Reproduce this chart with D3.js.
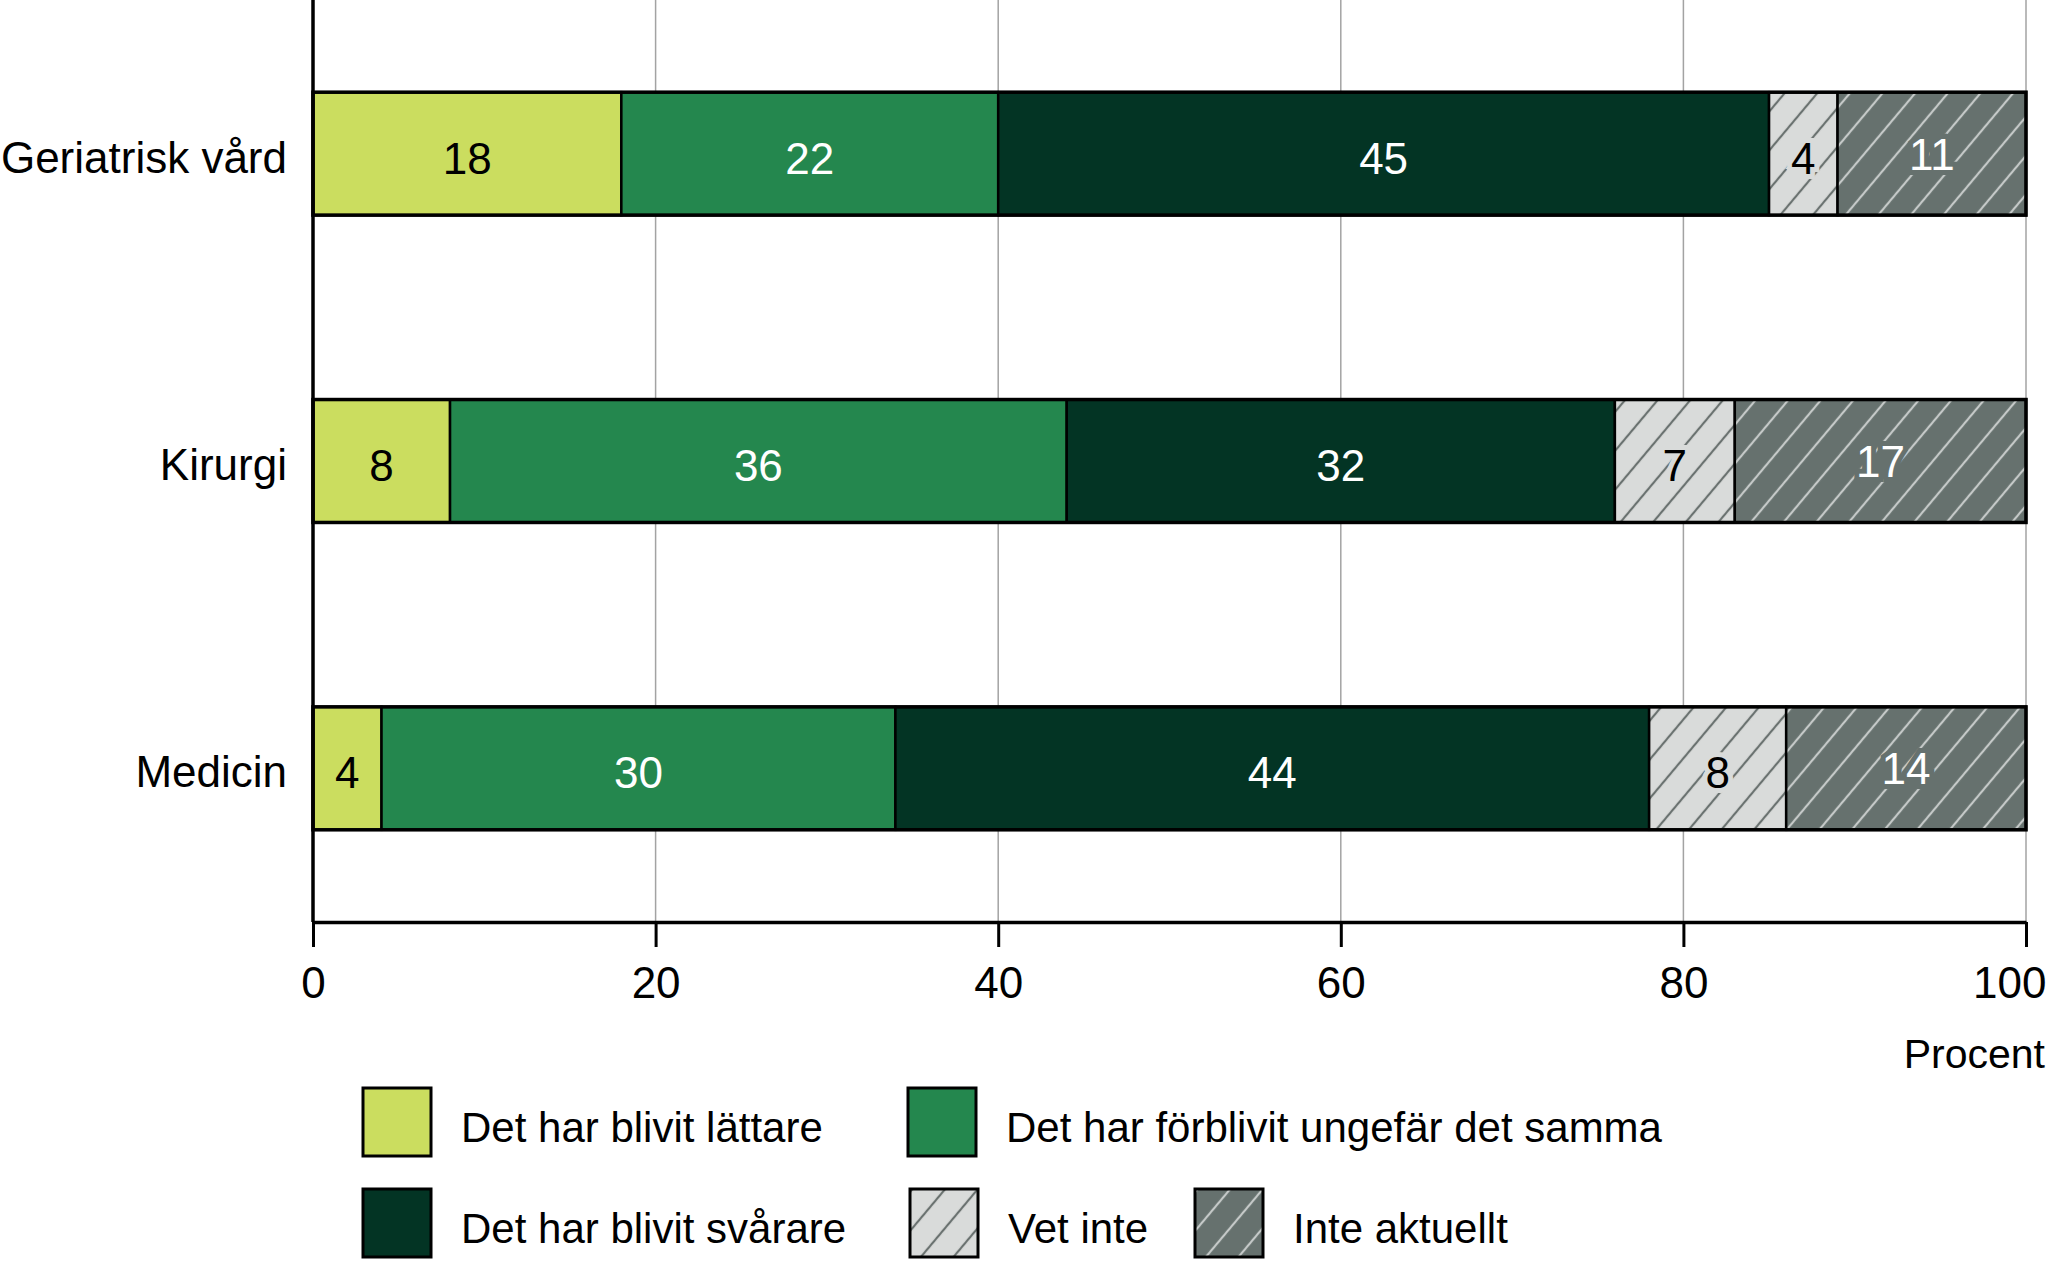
<!DOCTYPE html>
<html>
<head>
<meta charset="utf-8">
<script src="https://d3js.org/d3.v7.min.js"></script>
</head>
<body style="margin:0;background:#fff">
<style>
  svg text { font-family: "Liberation Sans", Arial, sans-serif; }
</style>
<svg id="chart"></svg>
<script>
// data
var categories = ["Geriatrisk vård", "Kirurgi", "Medicin"];
var seriesNames = ["Det har blivit lättare", "Det har förblivit ungefär det samma", "Det har blivit svårare", "Vet inte", "Inte aktuellt"];
var lattare = [18, 8, 4];
var samma = [22, 36, 30];
var svarare = [45, 32, 44];
var vetInte = [4, 7, 8];
var inteAktuellt = [11, 17, 14];
var xTicks = [0, 20, 40, 60, 80, 100];
var axisTitle = "Procent";

var W = 2048, H = 1261;
var left = 313, right = 2026, plotBottom = 922;

var svg = d3.select("#chart").attr("width", W).attr("height", H);

var keys = ["s0", "s1", "s2", "s3", "s4"];
var seriesValues = [lattare, samma, svarare, vetInte, inteAktuellt];
var rows = categories.map(function(c, i) {
  var r = { cat: c };
  keys.forEach(function(k, j) { r[k] = seriesValues[j][i]; });
  return r;
});

var fills = ["#cbdd5f", "#24874e", "#033424", "url(#hatchLight)", "url(#hatchDark)"];
var baseFill = ["#cbdd5f", "#24874e", "#033424", "#d9dbda", "#66716e"];
var labelColor = ["#000", "#fff", "#fff", "#000", "#fff"];

var x = d3.scaleLinear().domain([0, 100]).range([left, right]);
var y = d3.scaleBand().domain(categories).range([0, plotBottom])
  .paddingInner(0.6).paddingOuter(0.3);

// hatch patterns
var defs = svg.append("defs");
function hatch(id, bg, fg) {
  var p = defs.append("pattern").attr("id", id)
    .attr("patternUnits", "userSpaceOnUse")
    .attr("width", 25).attr("height", 25)
    .attr("patternTransform", "rotate(40)");
  p.append("rect").attr("width", 25).attr("height", 25).attr("fill", bg);
  p.append("line").attr("x1", 2).attr("y1", 0).attr("x2", 2).attr("y2", 25)
    .attr("stroke", fg).attr("stroke-width", 2.2);
}
hatch("hatchLight", "#d9dbda", "#6a7270");
hatch("hatchDark", "#66716e", "#c5c9c8");

// gridlines
svg.append("g").selectAll("line")
  .data(xTicks.filter(function(d) { return d > 0; }))
  .join("line")
  .attr("x1", d => x(d)).attr("x2", d => x(d))
  .attr("y1", 0).attr("y2", plotBottom)
  .attr("stroke", "#a3a3a3").attr("stroke-width", 1.5);

var stacked = d3.stack().keys(keys)(rows);

var groups = svg.append("g").selectAll("g")
  .data(stacked).join("g")
  .attr("fill", (d, i) => fills[i]);

groups.selectAll("rect")
  .data(d => d).join("rect")
  .attr("x", d => x(d[0]))
  .attr("width", d => x(d[1]) - x(d[0]))
  .attr("y", d => y(d.data.cat))
  .attr("height", y.bandwidth())
  .attr("stroke", "#000").attr("stroke-width", 2.5);

// outline of each bar
svg.append("g").selectAll("rect")
  .data(categories).join("rect")
  .attr("x", x(0)).attr("width", x(100) - x(0))
  .attr("y", d => y(d)).attr("height", y.bandwidth())
  .attr("fill", "none").attr("stroke", "#000").attr("stroke-width", 3.5);

// value labels
stacked.forEach(function(s, i) {
  svg.append("g").selectAll("text")
    .data(s).join("text")
    .attr("x", d => (x(d[0]) + x(d[1])) / 2)
    .attr("y", d => y(d.data.cat) + y.bandwidth() / 2 + (i === 4 ? 16 : 20))
    .attr("text-anchor", "middle")
    .attr("font-size", 44)
    .attr("fill", labelColor[i])
    .attr("stroke", i >= 3 ? baseFill[i] : "none")
    .attr("stroke-width", 10)
    .attr("paint-order", "stroke")
    .text(d => d[1] - d[0]);
});

// category labels
svg.append("g").selectAll("text")
  .data(categories).join("text")
  .attr("x", 287)
  .attr("y", d => y(d) + y.bandwidth() / 2 + 19)
  .attr("text-anchor", "end")
  .attr("font-size", 44)
  .text(d => d);

// y axis line
svg.append("line")
  .attr("x1", left).attr("x2", left).attr("y1", 0).attr("y2", plotBottom)
  .attr("stroke", "#000").attr("stroke-width", 3.5);

// x axis
var xAxis = svg.append("g")
  .attr("transform", "translate(0," + plotBottom + ")")
  .call(d3.axisBottom(x).tickValues(xTicks).tickSize(25).tickSizeOuter(0).tickFormat(d => d));
xAxis.select(".domain").attr("stroke", "#000").attr("stroke-width", 3.5);
xAxis.selectAll(".tick line").attr("stroke", "#000").attr("stroke-width", 3);
xAxis.selectAll(".tick text")
  .attr("y", 76).attr("dy", 0)
  .attr("font-size", 44).attr("fill", "#000")
  .style("font-family", "'Liberation Sans', Arial, sans-serif");
xAxis.selectAll(".tick text").filter(d => d === 100)
  .attr("text-anchor", "end").attr("x", W - 2 - x(100));

svg.append("text")
  .attr("x", W - 3).attr("y", 1068)
  .attr("text-anchor", "end")
  .attr("font-size", 41)
  .text(axisTitle);

// legend
var legendSlots = [[363, 1088], [908, 1088], [363, 1189], [910, 1189], [1195, 1189]];
var leg = svg.append("g").selectAll("g")
  .data(seriesNames).join("g")
  .attr("transform", (d, i) => "translate(" + legendSlots[i][0] + "," + legendSlots[i][1] + ")");
leg.append("rect")
  .attr("width", 68).attr("height", 68)
  .attr("fill", (d, i) => fills[i])
  .attr("stroke", "#000").attr("stroke-width", 3);
leg.append("text")
  .attr("x", 98).attr("y", 54)
  .attr("font-size", 42)
  .text(d => d);
</script>
</body>
</html>
